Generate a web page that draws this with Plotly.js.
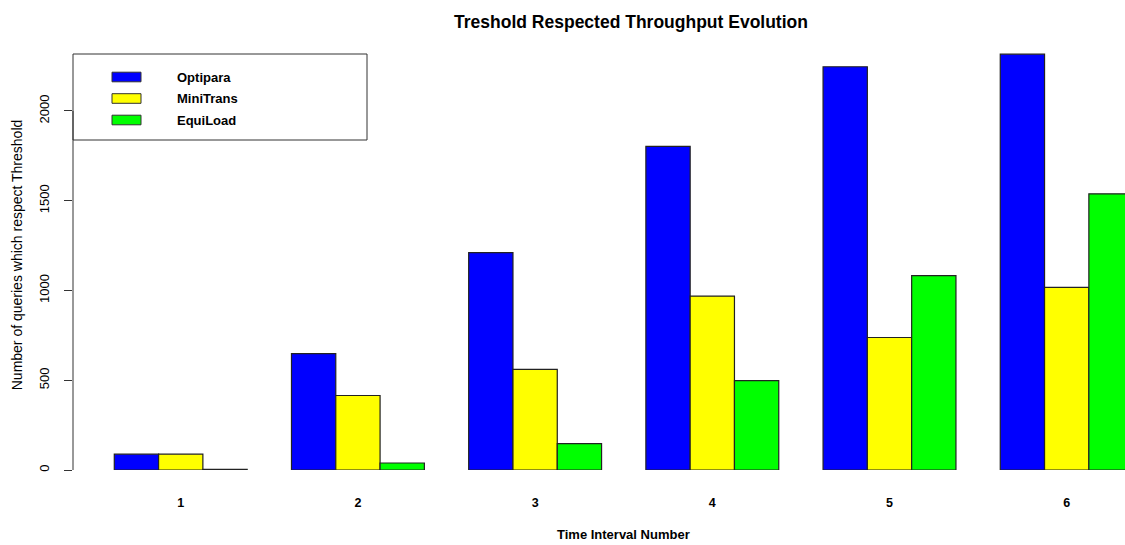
<!DOCTYPE html>
<html>
<head>
<meta charset="utf-8">
<script src="https://cdn.plot.ly/plotly-3.0.1.min.js"></script>
<style>
  html, body { margin: 0; padding: 0; background: #fff; }
  #chart { width: 1125px; height: 545px; }
</style>
</head>
<body>
<div id="chart"></div>
<script>
// ---- data ----
const categories = ["1", "2", "3", "4", "5", "6"];
const seriesNames = ["Optipara", "MiniTrans", "EquiLoad"];
const optipara  = [88, 648, 1211, 1802, 2246, 2316];
const miniTrans = [88, 415, 560, 969, 738, 1017];
const equiLoad  = [4, 39, 147, 498, 1083, 1538];
const seriesColors = ["#0000ff", "#ffff00", "#00ff00"];
const yTickVals = [0, 500, 1000, 1500, 2000];

const seriesValues = [optipara, miniTrans, equiLoad];
const FONT = "Liberation Sans, Arial, sans-serif";

// plot-area geometry (pixels) used to convert legend placement into paper units
const W = 1125, H = 545;
const M = { l: 73, r: 0, t: 40, b: 75 };
const PW = W - M.l - M.r, PH = H - M.t - M.b;
const px = x => (x - M.l) / PW;
const py = y => (H - M.b - y) / PH;

const traces = seriesNames.map((name, i) => ({
  type: "bar",
  name: name,
  x: categories,
  y: seriesValues[i],
  marker: { color: seriesColors[i], line: { color: "#222222", width: 1.2 } },
  hoverinfo: "x+y+name",
  showlegend: false
}));

// legend drawn as a boxed key (R style): wide swatches + labels
const legendShapes = [{
  type: "rect", xref: "paper", yref: "paper",
  x0: px(73), x1: px(367), y0: py(140), y1: py(54),
  line: { color: "#333", width: 1 }, fillcolor: "rgba(0,0,0,0)"
}];
const legendAnnots = [];
const rowY = [77, 98.5, 120];
seriesNames.forEach((name, i) => {
  legendShapes.push({
    type: "rect", xref: "paper", yref: "paper",
    x0: px(112), x1: px(141), y0: py(rowY[i] + 4.8), y1: py(rowY[i] - 4.8),
    line: { color: "#333", width: 1 }, fillcolor: seriesColors[i]
  });
  legendAnnots.push({
    text: "<b>" + name + "</b>",
    xref: "paper", yref: "paper",
    x: px(175), y: py(rowY[i]),
    xanchor: "left", yanchor: "middle", showarrow: false,
    font: { family: FONT, size: 13, color: "#000" }
  });
});

const layout = {
  width: W,
  height: H,
  margin: { l: M.l, r: M.r, t: M.t, b: M.b, pad: 0 },
  paper_bgcolor: "#ffffff",
  plot_bgcolor: "#ffffff",
  barmode: "group",
  bargap: 0.25,
  bargroupgap: 0,
  showlegend: false,
  font: { family: FONT, color: "#000000", size: 12 },
  title: {
    text: "<b>Treshold Respected Throughput Evolution</b>",
    font: { family: FONT, size: 17.5, color: "#000" },
    x: px(631), xref: "paper", xanchor: "center",
    y: 1 - 22 / H, yref: "container", yanchor: "middle"
  },
  xaxis: {
    type: "category",
    range: [-0.608, 5.329],
    showline: false, showgrid: false, zeroline: false,
    ticks: "", ticklabelstandoff: 23,
    tickfont: { family: FONT, size: 12.5, color: "#000", weight: "bold" },
    fixedrange: true
  },
  yaxis: {
    range: [0, 2395],
    showline: false, showgrid: false, zeroline: false,
    tickvals: yTickVals,
    ticktext: yTickVals.map(String),
    ticks: "outside", ticklen: 8, tickwidth: 1, tickcolor: "#333",
    tickangle: -90,
    ticklabelstandoff: 10,
    tickfont: { family: FONT, size: 13, color: "#000" },
    title: {
      text: "Number of queries which respect Threshold",
      font: { family: FONT, size: 14, color: "#000" },
      standoff: 10
    },
    automargin: false,
    fixedrange: true
  },
  annotations: [{
    text: "<b>Time Interval Number</b>",
    xref: "paper", yref: "paper",
    x: px(623), y: py(534),
    xanchor: "center", yanchor: "middle",
    showarrow: false,
    font: { family: FONT, size: 13, color: "#000" }
  }].concat(legendAnnots),
  shapes: [{
    type: "line", xref: "paper", yref: "y",
    x0: 0, x1: 0,
    y0: yTickVals[0], y1: yTickVals[yTickVals.length - 1],
    line: { color: "#333", width: 1 }
  }].concat(legendShapes)
};

Plotly.newPlot("chart", traces, layout, { displayModeBar: false, staticPlot: true });
</script>
</body>
</html>
